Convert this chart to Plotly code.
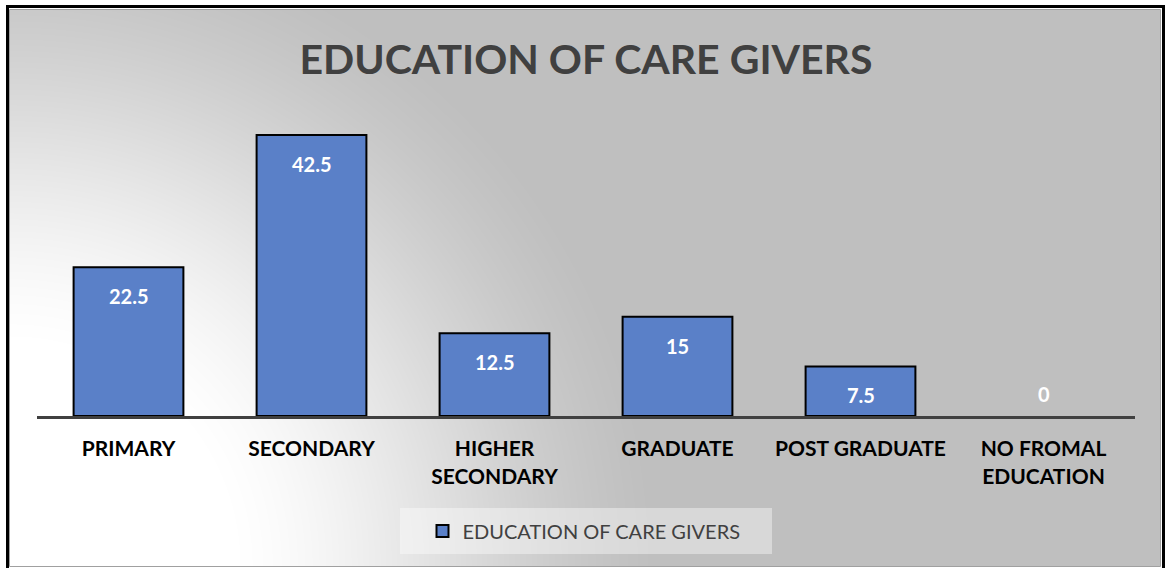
import base64, zlib, struct
import numpy as np
import plotly.graph_objects as go

# ---- data ----
categories = ["PRIMARY", "SECONDARY", "HIGHER<br>SECONDARY", "GRADUATE",
              "POST GRADUATE", "NO FROMAL<br>EDUCATION"]
values = [22.5, 42.5, 12.5, 15, 7.5, 0]
series_name = "EDUCATION OF CARE GIVERS"
title_text = "EDUCATION OF CARE GIVERS"

W, H = 1167, 568

# ---- background gradient image (radial from bottom-left corner) ----
def make_png(arr):
    h, w = arr.shape[:2]
    raw = b"".join(b"\x00" + arr[i].tobytes() for i in range(h))
    def chunk(t, d):
        c = struct.pack(">I", len(d)) + t + d
        return c + struct.pack(">I", zlib.crc32(t + d) & 0xffffffff)
    png = b"\x89PNG\r\n\x1a\n"
    png += chunk(b"IHDR", struct.pack(">IIBBBBB", w, h, 8, 2, 0, 0, 0))
    png += chunk(b"IDAT", zlib.compress(raw, 9))
    png += chunk(b"IEND", b"")
    return "data:image/png;base64," + base64.b64encode(png).decode()

bx0, by0, bx1, by1 = 10, 10, 1161, 566
bw, bh = bx1 - bx0, by1 - by0
yy, xx = np.mgrid[0:bh, 0:bw].astype(float)
r = np.sqrt((xx - 0) ** 2 + (yy - bh) ** 2)
t = np.clip((r - 230) / (650 - 230), 0, 1)
t = t * t * (3 - 2 * t) * 0.5 + t * 0.5
g = (255 - t * 64).astype(np.uint8)
img = np.stack([g, g, g], axis=-1)
bg_src = make_png(img)

fig = go.Figure()
fig.add_trace(go.Bar(
    x=categories, y=values, name=series_name,
    marker=dict(color="#5a80c8",
                line=dict(color="#000000", width=[2 if v > 0 else 0 for v in values])),
    width=0.6, showlegend=True,
))

# data labels
for c, v in zip(categories, values):
    fig.add_annotation(
        x=c, y=v, xref="x", yref="y", text=f"<b>{v:g}</b>", showarrow=False,
        yanchor="middle", yshift=(-29 if v > 0 else 22),
        font=dict(family="Lato", size=20, color="#ffffff"),
    )

fig.update_layout(
    width=W, height=H,
    margin=dict(l=0, r=0, t=0, b=0),
    paper_bgcolor="#ffffff",
    plot_bgcolor="rgba(0,0,0,0)",
    title=dict(text=f"<b>{title_text}</b>", x=586 / W, y=1 - 60 / H,
               xanchor="center", yanchor="middle",
               font=dict(family="Lato", size=41, color="#404040")),
    xaxis=dict(domain=[37 / W, 1135 / W], showline=True, linecolor="#404040",
               linewidth=3, ticks="", showgrid=False, ticklabelstandoff=12,
               tickfont=dict(family="Lato", size=21, color="#000000", weight="bold"),
               fixedrange=True),
    yaxis=dict(domain=[152 / H, 1 - 118.5 / H], range=[0, 45], visible=False,
               showgrid=False, zeroline=False),
    showlegend=True,
    legend=dict(orientation="h", x=584 / W, y=1 - 531 / H, xanchor="center",
                yanchor="middle", bgcolor="rgba(0,0,0,0)",
                font=dict(family="Lato", size=20, color="#404040")),
    images=[dict(source=bg_src, xref="paper", yref="paper", x=bx0 / W,
                 y=1 - by0 / H, sizex=bw / W, sizey=bh / H, sizing="stretch",
                 xanchor="left", yanchor="top", layer="below")],
    shapes=[
        dict(type="rect", xref="paper", yref="paper", x0=400 / W, x1=772 / W,
             y0=1 - 554 / H, y1=1 - 508 / H, line=dict(width=0),
             fillcolor="rgba(255,255,255,0.4)", layer="below"),
        dict(type="rect", xref="paper", yref="paper", x0=9.5 / W, x1=1160.5 / W,
             y0=1 - 566.5 / H, y1=1 - 9.5 / H, line=dict(color="#a0a0a0", width=1)),
        dict(type="rect", xref="paper", yref="paper", x0=7.5 / W, x1=1163.5 / W,
             y0=-0.05, y1=1 - 6.5 / H, line=dict(color="#000000", width=3)),
    ],
    bargap=0.4,
)

fig.write_html("out.html", config={"displayModeBar": False},
               post_script="document.body.style.margin='0';document.body.style.overflow='hidden';")
